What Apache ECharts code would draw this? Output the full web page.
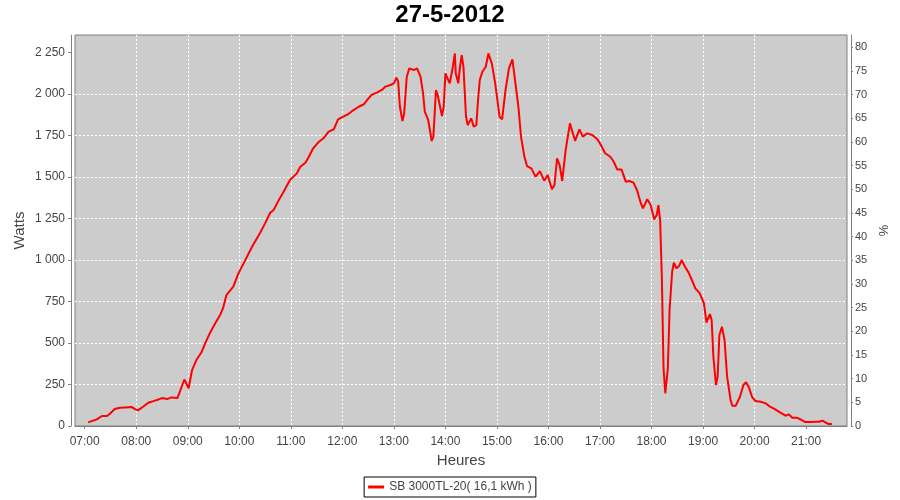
<!DOCTYPE html>
<html>
<head>
<meta charset="utf-8">
<script src="https://cdn.jsdelivr.net/npm/echarts@6/dist/echarts.min.js"></script>
<style>
html,body{margin:0;padding:0;background:#fff;}
#chart{width:900px;height:500px;}
</style>
</head>
<body>
<div id="chart"></div>
<script>
var chartTitle = '27-5-2012';
var seriesName = 'SB 3000TL-20( 16,1 kWh )';
var times = ['07:04','07:14','07:20','07:26','07:29','07:35','07:41','07:47','07:55','07:59',
'08:02','08:08','08:14','08:20','08:26','08:30','08:36','08:41','08:48','08:56',
'09:01','09:05','09:10','09:16','09:20','09:26','09:32','09:38','09:41','09:45','09:53','09:59',
'10:05','10:11','10:16','10:24','10:30','10:36','10:40','10:46','10:51','10:59',
'11:07','11:11','11:17','11:21','11:26','11:32','11:38','11:44','11:50','11:55',
'12:01','12:07','12:13','12:19','12:25','12:29','12:34','12:40','12:46','12:50','12:56',
'13:00','13:03','13:05','13:07','13:10','13:12','13:15','13:18','13:23','13:27','13:31','13:34','13:36','13:40','13:44','13:46','13:49','13:51','13:56','13:58',
'14:00','14:02','14:05','14:08','14:11','14:12','14:15','14:17','14:19','14:21','14:24','14:26','14:30','14:33','14:36','14:38','14:40','14:43','14:47','14:50','14:54','14:58',
'15:03','15:06','15:10','15:14','15:18','15:20','15:25','15:28','15:32','15:35','15:40','15:43','15:45','15:50','15:55','15:59',
'16:04','16:07','16:10','16:13','16:16','16:20','16:25','16:27','16:31','16:36','16:40','16:45','16:51','16:57',
'17:01','17:06','17:12','17:16','17:20','17:25','17:30','17:34','17:39','17:43','17:47','17:50','17:55','17:59',
'18:03','18:06','18:08','18:10','18:12','18:14','18:16','18:19','18:21','18:24','18:26','18:29','18:32','18:35','18:39','18:43','18:47','18:51','18:56',
'19:01','19:04','19:05','19:08','19:10','19:12','19:15','19:17','19:19','19:22','19:25','19:28','19:32','19:34','19:38','19:43','19:47','19:50','19:53','19:57',
'20:01','20:07','20:13','20:18','20:24','20:30','20:36','20:40','20:44','20:49','20:55','20:59',
'21:05','21:11','21:15','21:19','21:23','21:26','21:30'];
var watts = [22,40,60,60,72,102,110,112,114,100,
94,116,140,150,160,168,162,172,168,280,
227,337,397,444,494,562,618,672,708,788,839,919,
979,1040,1090,1160,1220,1284,1300,1360,1404,1481,
1521,1561,1585,1621,1672,1708,1732,1772,1786,1846,
1862,1878,1902,1922,1937,1963,1993,2007,2023,2043,2053,
2063,2097,2073,1922,1836,1883,2103,2153,2143,2153,2103,2003,1892,1842,1716,1742,2023,1993,1866,1922,
2123,2133,2063,2143,2243,2123,2063,2163,2233,2163,1862,1812,1852,1802,1812,1963,2083,2133,2163,2243,2183,2063,
1862,1846,2023,2153,2207,2199,1922,1742,1621,1565,1551,1521,1501,1535,1477,1511,
1425,1451,1612,1571,1475,1661,1822,1786,1717,1786,1742,1762,1752,1726,
1692,1642,1621,1591,1545,1545,1471,1475,1465,1421,1350,1310,1365,1330,
1244,1270,1330,1240,899,347,197,347,698,929,983,949,963,999,959,925,879,829,800,
739,622,638,674,638,417,247,297,548,598,518,297,157,122,122,176,247,263,237,176,
150,146,136,116,100,80,62,70,50,50,36,24,
24,26,26,32,20,12,12];
var hourTicks = ['07:00','08:00','09:00','10:00','11:00','12:00','13:00','14:00','15:00','16:00','17:00','18:00','19:00','20:00','21:00'];
var wattsTicks = [0,250,500,750,1000,1250,1500,1750,2000,2250];
var pctTicks = [0,5,10,15,20,25,30,35,40,45,50,55,60,65,70,75,80];
var xMinTime = '06:48:42';
var xMaxTime = '21:47:36';
var wattsMax = 2354;
var pctMax = 82.6;

function toMs(t){
  var p = t.split(':');
  return new Date(2012, 4, 27, +p[0], +p[1], p[2] ? +p[2] : 0).getTime();
}
var data = times.map(function(t, i){ return [toMs(t), watts[i]]; });
var hourMs = hourTicks.map(toMs);

function fmtThousands(v){
  v = Math.round(v);
  if (v >= 1000) {
    var r = String(v % 1000);
    while (r.length < 3) r = '0' + r;
    return Math.floor(v / 1000) + ' ' + r;
  }
  return String(v);
}
function fmtHour(v){
  var d = new Date(v);
  var h = d.getHours(), m = d.getMinutes();
  return (h < 10 ? '0' : '') + h + ':' + (m < 10 ? '0' : '') + m;
}

var font = 'Liberation Sans';
var gridLine = {show: true, showMinLine: false, showMaxLine: false, lineStyle: {color: '#ffffff', width: 1, type: [2, 2]}};
var chart = echarts.init(document.getElementById('chart'), null, {renderer: 'canvas'});
chart.setOption({
  animation: false,
  backgroundColor: '#ffffff',
  title: {
    text: chartTitle, left: 'center', top: -2,
    textStyle: {fontFamily: font, fontSize: 24, fontWeight: 'bold', color: '#000'}
  },
  legend: {
    left: 'center', top: 477,
    padding: [4, 4, 4, 4],
    borderColor: '#000', borderWidth: 1,
    itemWidth: 16, itemHeight: 3, itemGap: 5,
    icon: 'rect',
    textStyle: {fontFamily: font, fontSize: 12, color: '#444'},
    data: [seriesName]
  },
  grid: {
    left: 75, right: 53, top: 35, bottom: 74,
    show: true, backgroundColor: '#cccccc', borderColor: '#808080', borderWidth: 1,
    containLabel: false
  },
  xAxis: {
    type: 'value',
    min: toMs(xMinTime), max: toMs(xMaxTime),
    offset: 4,
    name: 'Heures', nameLocation: 'middle', nameGap: 23,
    nameTextStyle: {fontFamily: font, fontSize: 15, color: '#444'},
    axisLine: {show: true, lineStyle: {color: '#808080', width: 1}},
    axisTick: {show: true, length: 3, customValues: hourMs, lineStyle: {color: '#808080'}},
    axisLabel: {customValues: hourMs, formatter: fmtHour, fontFamily: font, fontSize: 12, color: '#444', margin: 6},
    splitLine: gridLine
  },
  yAxis: [{
    type: 'value', position: 'left',
    min: 0, max: wattsMax,
    offset: 4,
    name: 'Watts', nameLocation: 'middle', nameGap: 44, nameMoveOverlap: false,
    nameTextStyle: {fontFamily: font, fontSize: 15, color: '#444'},
    axisLine: {show: true, lineStyle: {color: '#808080', width: 1}},
    axisTick: {show: true, length: 3, customValues: wattsTicks, lineStyle: {color: '#808080'}},
    axisLabel: {customValues: wattsTicks, formatter: fmtThousands, fontFamily: font, fontSize: 12, color: '#444', margin: 6},
    splitLine: gridLine
  }, {
    type: 'value', position: 'right',
    min: 0, max: pctMax,
    offset: 4,
    name: '%', nameLocation: 'middle', nameGap: 25, nameRotate: -90, nameMoveOverlap: false,
    nameTextStyle: {fontFamily: font, fontSize: 13, color: '#444'},
    axisLine: {show: true, lineStyle: {color: '#808080', width: 1}},
    axisTick: {show: true, length: 2, customValues: pctTicks, lineStyle: {color: '#808080'}},
    axisLabel: {customValues: pctTicks, fontFamily: font, fontSize: 11, color: '#444', margin: 4},
    splitLine: {show: false}
  }],
  series: [{
    name: seriesName, type: 'line', yAxisIndex: 0,
    data: data, showSymbol: false, symbol: 'none',
    lineStyle: {color: '#ff0000', width: 2},
    itemStyle: {color: '#ff0000'}
  }]
});
</script>
</body>
</html>
